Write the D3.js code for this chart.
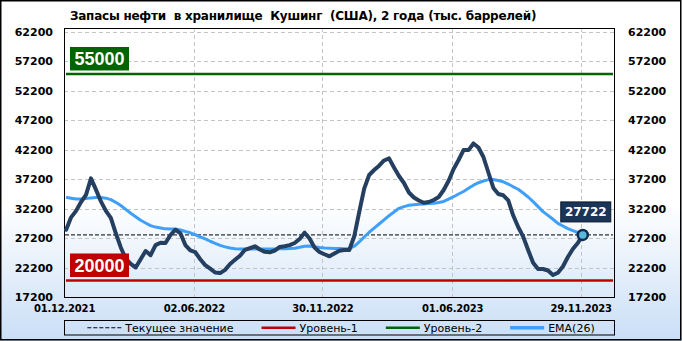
<!DOCTYPE html>
<html lang="ru">
<head>
<meta charset="UTF-8">
<title>Кушинг</title>
<style>
  body { margin: 0; background: #fff; }
  svg { display: block; }
</style>
</head>
<body>
<div class="chart"></div>
<script src="https://d3js.org/d3.v7.min.js"></script>
<script>
var w = 682, h = 341;

var titleText = "Запасы нефти  в хранилище  Кушинг  (США), 2 года (тыс. баррелей)";

// weekly points, first one dated below
var firstWeek = "04.12.2021";
var stocks = [
    28600, 30700, 31800, 33300, 34500, 37300, 35400, 33400, 31800, 30600,
    28000, 25600, 23700, 22800, 22200, 23600, 25000, 24300, 26000, 26400,
    26350, 27700, 28600, 28000, 26000, 25100, 24800, 23600, 22600, 22000,
    21350, 21250, 21800, 22800, 23500, 24200, 25200, 25500, 25800, 25250,
    24850, 24780, 25080, 25680, 25810, 26000, 26350, 27030, 28100, 27120,
    25590, 24830, 24450, 24100, 24570, 25030, 25170, 25170, 27490, 31610,
    35570, 37880, 38730, 39460, 40340, 40700, 39150, 37710, 36520, 34910,
    34070, 33560, 33170, 33300, 33640, 34150, 35340, 36910, 38900, 40420,
    42100, 42100, 43220, 42540, 40930, 38300, 35680, 34660, 34440, 33590,
    31010, 29070, 27440, 25170, 23010, 21960, 21950, 21690, 20930, 21320,
    22370, 23980, 25340, 26350, 27722
];
var ema26 = [
    34100, 33950, 33800, 33800, 33900, 34000, 34050, 34050, 33950, 33700,
    33250, 32700, 32050, 31400, 30800, 30200, 29750, 29300, 29050, 28900,
    28750, 28730, 28730, 28550, 28300, 28080, 27750, 27400, 27050, 26650,
    26300, 25950, 25700, 25520, 25380, 25340, 25340, 25340, 25340, 25340,
    25340, 25340, 25350, 25360, 25380, 25420, 25480, 25620, 25800, 25850,
    25700, 25580, 25500, 25450, 25400, 25400, 25380, 25400, 25800, 26550,
    27370, 28170, 28860, 29570, 30290, 30980, 31610, 32230, 32520, 32740,
    32850, 32900, 32960, 33030, 33100, 33220, 33390, 33790, 34200, 34660,
    35080, 35620, 36150, 36570, 36860, 37100, 37120, 36950, 36730, 36350,
    35880, 35460, 34830, 34150, 33370, 32520, 31680, 31030, 30370, 29690,
    29230, 28780, 28450, 28130, 27830
];

var yTickLabels = ["17200", "22200", "27200", "32200", "37200", "42200", "47200", "52200", "57200", "62200"];
var xTickLabels = ["01.12.2021", "02.06.2022", "30.11.2022", "01.06.2023", "29.11.2023"];
var xEnd = "15.01.2024";

var level1 = 20000, level2 = 55000;
var legendNames = ["Текущее значение", "Уровень-1", "Уровень-2", "EMA(26)"];

var colDark = "#243f60", colEma = "#3ea0fa", colRed = "#c00000", colGreen = "#006400";

var parse = d3.utcParse("%d.%m.%Y");
var start = parse(firstWeek);
var points = stocks.map(function(v, i) {
    return {date: d3.utcDay.offset(start, 7 * i), v: v, ema: ema26[i]};
});
var last = points[points.length - 1];

var x0 = 64, x1 = 614, yTop = 28, yBot = 297;

var x = d3.scaleUtc()
    .domain([parse(xTickLabels[0]), parse(xEnd)])
    .range([x0, x1]);
var y = d3.scaleLinear()
    .domain([+yTickLabels[0], +yTickLabels[yTickLabels.length - 1]])
    .range([yBot, 31.5]);

var svg = d3.select(".chart").append("svg")
    .attr("width", w).attr("height", h);

var grad = svg.append("defs").append("linearGradient")
    .attr("id", "bg").attr("x1", 0).attr("y1", 0).attr("x2", 0).attr("y2", 1);
grad.append("stop").attr("offset", "0.6").attr("stop-color", "#ffffff");
grad.append("stop").attr("offset", "1").attr("stop-color", "#c9def6");

svg.append("rect").attr("width", w).attr("height", h).attr("fill", "url(#bg)");
svg.append("rect")
    .attr("x", 0.75).attr("y", 0.75).attr("width", w - 2).attr("height", h - 2)
    .attr("fill", "none").attr("stroke", "#000").attr("stroke-width", 1.5);

// title
svg.append("text")
    .attr("x", 70).attr("y", 20)
    .style("white-space", "pre")
    .attr("font-family", "DejaVu Sans").attr("font-weight", "bold").attr("font-size", 12)
    .attr("letter-spacing", -0.25)
    .text(titleText);

// grid
var grid = svg.append("g").attr("stroke", "#c4c4c4").attr("stroke-dasharray", "4,3").attr("stroke-width", 1);
grid.selectAll("line.h").data(yTickLabels).enter().append("line")
    .attr("x1", x0).attr("x2", x1)
    .attr("y1", function(d) { return Math.round(y(+d)) + 0.5; })
    .attr("y2", function(d) { return Math.round(y(+d)) + 0.5; });
grid.selectAll("line.v").data(xTickLabels).enter().append("line")
    .attr("y1", yTop).attr("y2", yBot)
    .attr("x1", function(d) { return Math.round(x(parse(d))) + 0.5; })
    .attr("x2", function(d) { return Math.round(x(parse(d))) + 0.5; });

// axes labels
var yAxisL = svg.append("g").attr("transform", "translate(" + (x0 - 11) + ",0)")
    .call(d3.axisLeft(y).tickValues(yTickLabels.map(Number)).tickFormat(d3.format("d")).tickSize(0).tickPadding(0));
var yAxisR = svg.append("g").attr("transform", "translate(" + (x1 + 14) + ",0)")
    .call(d3.axisRight(y).tickValues(yTickLabels.map(Number)).tickFormat(d3.format("d")).tickSize(0).tickPadding(0));
var xAxis = svg.append("g").attr("transform", "translate(0," + (yBot + 8) + ")")
    .call(d3.axisBottom(x).tickValues(xTickLabels.map(parse)).tickFormat(d3.utcFormat("%d.%m.%Y")).tickSize(0).tickPadding(0));
[yAxisL, yAxisR, xAxis].forEach(function(a) {
    a.select(".domain").remove();
    a.selectAll("text").attr("fill", "#000")
        .attr("font-family", "DejaVu Sans")
        .attr("font-weight", "bold")
        .attr("font-size", 11);
});
xAxis.selectAll("text").attr("font-size", 10).attr("letter-spacing", -0.2);

// current value line
svg.append("line")
    .attr("x1", x0 + 1).attr("x2", x1 - 1)
    .attr("y1", y(last.v)).attr("y2", y(last.v))
    .attr("stroke", "#000").attr("stroke-width", 1).attr("stroke-dasharray", "4,2");

// level lines
[[level1, colRed], [level2, colGreen]].forEach(function(l) {
    svg.append("line")
        .attr("x1", x0 + 2).attr("x2", x1 - 1)
        .attr("y1", y(l[0])).attr("y2", y(l[0]))
        .attr("stroke", l[1]).attr("stroke-width", 2.5);
});

// plot frame
svg.append("rect")
    .attr("x", x0 + 0.5).attr("y", yTop + 0.5).attr("width", x1 - x0).attr("height", yBot - yTop)
    .attr("fill", "none").attr("stroke", "#000").attr("stroke-width", 1);

var emaLine = d3.line().x(function(d) { return x(d.date); }).y(function(d) { return y(d.ema); });
var valLine = d3.line().x(function(d) { return x(d.date); }).y(function(d) { return y(d.v); });

svg.append("path").datum(points)
    .attr("d", emaLine).attr("fill", "none")
    .attr("stroke", colEma).attr("stroke-width", 3).attr("stroke-linejoin", "round");
svg.append("path").datum(points)
    .attr("d", valLine).attr("fill", "none")
    .attr("stroke", colDark).attr("stroke-width", 4).attr("stroke-linejoin", "round").attr("stroke-linecap", "round");

svg.append("circle")
    .attr("cx", x(last.date)).attr("cy", y(last.v)).attr("r", 5)
    .attr("fill", "#5ab8dc").attr("stroke", "#0f2b4f").attr("stroke-width", 2.5);

// level badges
function badge(value, fill) {
    var bw = 59, bh = 23.5, by = y(value) - 3.5 - bh, bx = x0 + 6;
    svg.append("rect").attr("x", bx).attr("y", by).attr("width", bw).attr("height", bh).attr("fill", fill);
    svg.append("text").attr("x", bx + bw / 2).attr("y", by + bh / 2 + 6.5)
        .attr("text-anchor", "middle").attr("fill", "#fff")
        .attr("font-family", "Liberation Sans").attr("font-weight", "bold").attr("font-size", 18)
        .text(value);
}
badge(level2, colGreen);
badge(level1, colRed);

// current value badge
var cbw = 50, cbh = 20, cbx = x(last.date) + 3 - cbw / 2, cby = y(last.v) - 13 - cbh;
svg.append("rect").attr("x", cbx).attr("y", cby).attr("width", cbw).attr("height", cbh)
    .attr("fill", "#1a3558").attr("stroke", "#0b1a2e").attr("stroke-width", 1);
svg.append("text").attr("x", cbx + cbw / 2).attr("y", cby + cbh / 2 + 4.5)
    .attr("text-anchor", "middle").attr("fill", "#fff")
    .attr("font-family", "DejaVu Sans").attr("font-weight", "bold").attr("font-size", 12)
    .text(last.v);

// legend
var legY = 320, legH = 14.5;
svg.append("rect").attr("x", x0 + 0.5).attr("y", legY + 0.5).attr("width", x1 - x0).attr("height", legH)
    .attr("fill", "none").attr("stroke", "#000").attr("stroke-width", 1);
var legStyles = [
    {stroke: "#000", width: 1, dash: "4,2"},
    {stroke: colRed, width: 2.5, dash: null},
    {stroke: colGreen, width: 2.5, dash: null},
    {stroke: colEma, width: 3.5, dash: null}
];
var leg = svg.append("g");
var cx = 0, my = legY + legH / 2 + 0.5;
legendNames.forEach(function(name, i) {
    var s = legStyles[i];
    leg.append("line").attr("x1", cx).attr("x2", cx + 34).attr("y1", my).attr("y2", my)
        .attr("stroke", s.stroke).attr("stroke-width", s.width).attr("stroke-dasharray", s.dash);
    var t = leg.append("text").attr("x", cx + 38).attr("y", my + 4)
        .attr("font-family", "DejaVu Sans").attr("font-size", 11).attr("fill", "#000")
        .text(name);
    cx += 38 + t.node().getComputedTextLength() + 28;
});
cx -= 28;
leg.attr("transform", "translate(" + (w / 2 - cx / 2) + ",0)");
</script>
</body>
</html>
